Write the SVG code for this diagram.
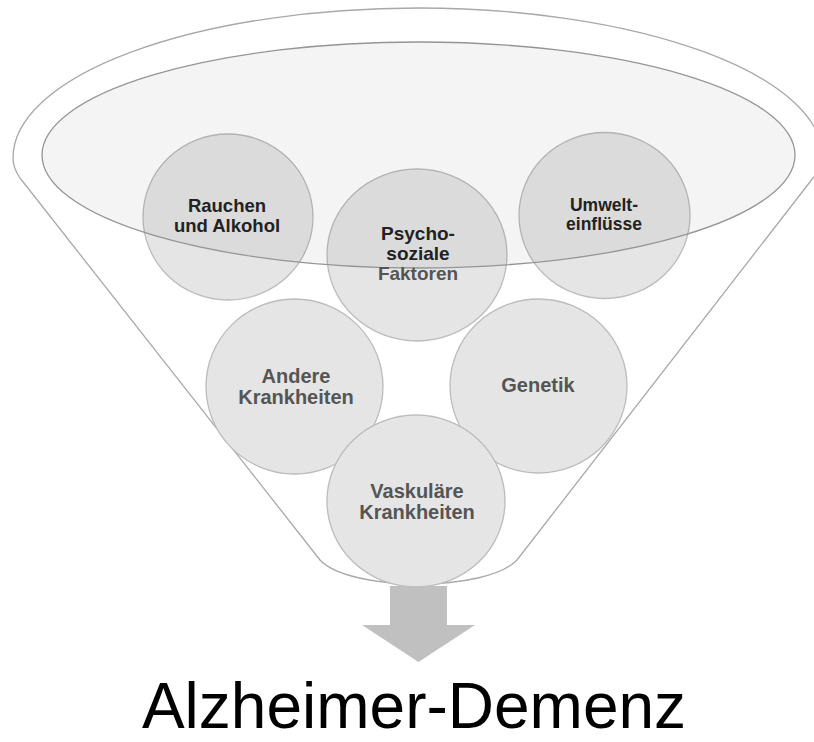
<svg xmlns="http://www.w3.org/2000/svg" width="814" height="742" viewBox="0 0 814 742">
  <style>
    .funnel { fill: #ffffff; stroke: #a8a8a8; stroke-width: 1.3; }
    .bubble { fill: #e5e5e5; stroke: #bcbcbc; stroke-width: 1.3; }
    .rim { fill: rgba(0,0,0,0.045); stroke: #959595; stroke-width: 1.3; }
    .lbl { font-family: "Liberation Sans", Arial, sans-serif; font-weight: bold; text-anchor: middle; }
    .dark { fill: #222222; }
    .grey { fill: #555555; }
    .arrow { fill: #c0c0c0; }
    .title { font-family: "Liberation Sans", Arial, sans-serif; font-size: 64px; fill: #000000; text-anchor: middle; }
  </style>

  <g id="funnel">
    <path class="funnel" d="M 320,560 L 20,178 Q 13,168 13,158 A 405 150 0 0 1 823,158 Q 823,168 813,178 L 517,560 C 487,592 350,592 320,560 Z"/>
  </g>

  <g id="node-rauchen">
    <ellipse class="bubble" cx="228" cy="217" rx="85" ry="83"/>
  </g>
  <g id="node-psychosozial">
    <ellipse class="bubble" cx="417" cy="255" rx="90" ry="86"/>
  </g>
  <g id="node-umwelt">
    <ellipse class="bubble" cx="604.5" cy="215.5" rx="85.5" ry="83"/>
  </g>
  <g id="node-andere">
    <ellipse class="bubble" cx="294.5" cy="386.5" rx="88.5" ry="87.5"/>
  </g>
  <g id="node-genetik">
    <ellipse class="bubble" cx="538.5" cy="386" rx="88.5" ry="87"/>
  </g>
  <g id="node-vaskulaer">
    <ellipse class="bubble" cx="416" cy="501" rx="89" ry="86"/>
  </g>

  <g id="funnel-rim">
    <ellipse class="rim" cx="418.5" cy="155" rx="376.5" ry="113"/>
  </g>

  <g id="labels">
    <text class="lbl dark" font-size="18.5" x="227" y="211.5">Rauchen</text>
    <text class="lbl dark" font-size="18.5" x="227" y="231.5">und Alkohol</text>

    <text class="lbl dark" font-size="19" x="418" y="240">Psycho-</text>
    <text class="lbl dark" font-size="19" x="418" y="260">soziale</text>
    <text class="lbl grey" font-size="19" x="418" y="280">Faktoren</text>

    <text class="lbl dark" font-size="17.5" x="604" y="211">Umwelt-</text>
    <text class="lbl dark" font-size="17.5" x="604" y="230">einflüsse</text>

    <text class="lbl grey" font-size="20" x="296" y="382.5">Andere</text>
    <text class="lbl grey" font-size="20" x="296" y="403.5">Krankheiten</text>

    <text class="lbl grey" font-size="20" x="538" y="392">Genetik</text>

    <text class="lbl grey" font-size="20" x="417" y="498">Vaskuläre</text>
    <text class="lbl grey" font-size="20" x="417" y="519">Krankheiten</text>
  </g>

  <g id="connectors">
    <path class="arrow" d="M 390,586 L 447,586 L 447,625 L 475,625 L 418.5,662 L 362,625 L 390,625 Z"/>
  </g>

  <g id="node-result">
    <text class="title" x="414" y="728">Alzheimer-Demenz</text>
  </g>
</svg>
